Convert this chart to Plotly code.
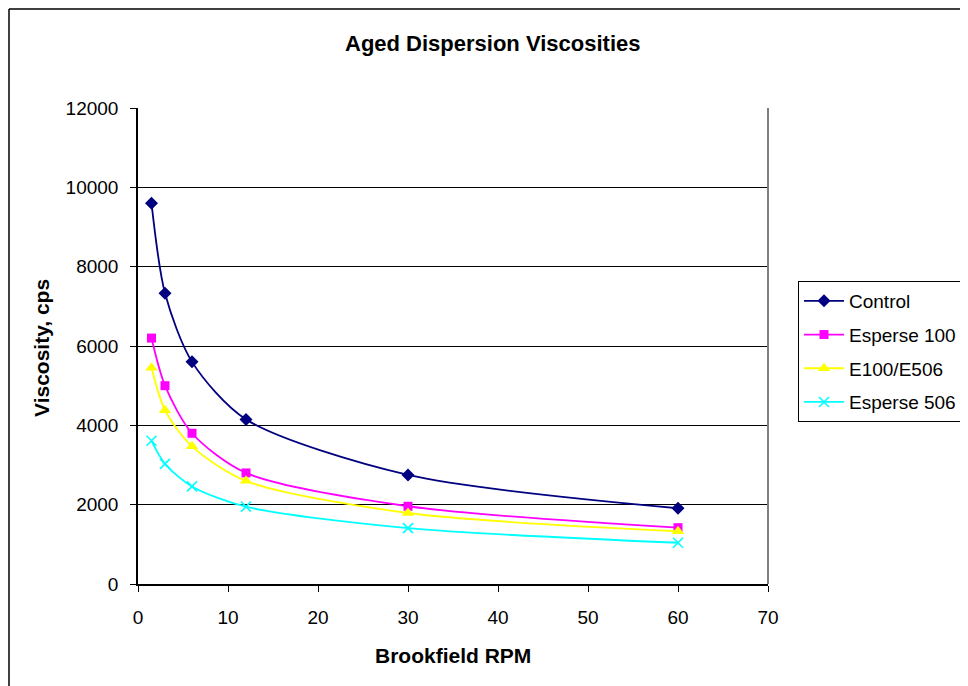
import plotly.graph_objects as go

rpm = [1.5, 3, 6, 12, 30, 60]
control = [9600, 7330, 5600, 4150, 2750, 1910]
esperse100 = [6200, 5000, 3800, 2800, 1960, 1420]
e100_e506 = [5450, 4380, 3470, 2600, 1790, 1330]
esperse506 = [3610, 3030, 2460, 1950, 1410, 1040]

series_names = ["Control", "Esperse 100", "E100/E506", "Esperse 506"]
series_values = [control, esperse100, e100_e506, esperse506]
colors = ["#000080", "#FF00FF", "#FFFF00", "#00FFFF"]
symbols = ["diamond", "square", "triangle-up", "x-thin"]
msizes = [10, 9, 11, 10]

FONT = "Arial, Liberation Sans, sans-serif"

OFF = 8  # page body margin
W, H = 968 - OFF, 686 - OFF
L, R, T, B = 138 - OFF, 768 - OFF, 108 - OFF, 584 - OFF

def px_x(p):
    return (p - OFF - L) / (R - L)

def px_y(p):
    return (B - (p - OFF)) / (B - T)

fig = go.Figure()
for i, (name, vals) in enumerate(zip(series_names, series_values)):
    marker = dict(symbol=symbols[i], size=msizes[i], color=colors[i])
    if symbols[i] == "x-thin":
        marker["line"] = dict(color=colors[i], width=1.6)
    fig.add_trace(go.Scatter(
        x=rpm, y=vals, name=name, mode="lines+markers",
        line=dict(color=colors[i], width=1.8, shape="spline", smoothing=0.8),
        marker=marker, legendgroup=name,
    ))

fig.update_layout(
    width=W, height=H,
    margin=dict(l=L, r=W - R, t=T, b=H - B, autoexpand=False, pad=0),
    paper_bgcolor="white", plot_bgcolor="white",
    font=dict(family=FONT, size=19, color="black"),
    showlegend=True,
    legend=dict(
        x=px_x(798), y=px_y(281), xanchor="left", yanchor="top",
        bordercolor="black", borderwidth=1, bgcolor="white",
        font=dict(family=FONT, size=19, color="black"),
        itemwidth=40, tracegroupgap=6, traceorder="grouped",
    ),
    xaxis=dict(
        range=[0, 70], dtick=10, tick0=0, showgrid=False, zeroline=False,
        showline=True, linecolor="black", linewidth=1.5,
        ticks="outside", ticklen=6, tickcolor="black", tickwidth=1,
        ticklabelstandoff=9, tickfont=dict(size=19), tickformat="d",
    ),
    yaxis=dict(
        range=[0, 12000], dtick=2000, tick0=0, showgrid=True, gridcolor="black",
        gridwidth=1, zeroline=False,
        showline=True, linecolor="black", linewidth=1.5,
        ticks="outside", ticklen=6, tickcolor="black", tickwidth=1,
        ticklabelstandoff=8, tickfont=dict(size=19), tickformat="d",
    ),
    annotations=[
        dict(text="<b>Aged Dispersion Viscosities</b>", xref="paper", yref="paper",
             x=px_x(492.5), y=px_y(43), xanchor="center", yanchor="middle",
             showarrow=False, font=dict(size=22, family=FONT)),
        dict(text="<b>Brookfield RPM</b>", xref="paper", yref="paper",
             x=px_x(453), y=px_y(655), xanchor="center", yanchor="middle",
             showarrow=False, font=dict(size=21, family=FONT)),
        dict(text="<b>Viscosity, cps</b>", xref="paper", yref="paper",
             x=px_x(41), y=px_y(348), xanchor="center", yanchor="middle",
             textangle=-90, showarrow=False, font=dict(size=21, family=FONT)),
    ],
    shapes=[
        dict(type="line", xref="paper", yref="paper", x0=1, x1=1, y0=0, y1=1,
             line=dict(color="#808080", width=2)),
        dict(type="line", xref="paper", yref="paper", x0=px_x(9), x1=px_x(9),
             y0=px_y(9), y1=px_y(700), line=dict(color="black", width=1.5)),
        dict(type="line", xref="paper", yref="paper", x0=px_x(9), x1=px_x(990),
             y0=px_y(9), y1=px_y(9), line=dict(color="black", width=1.5)),
    ],
)

fig.write_html("out.html")
